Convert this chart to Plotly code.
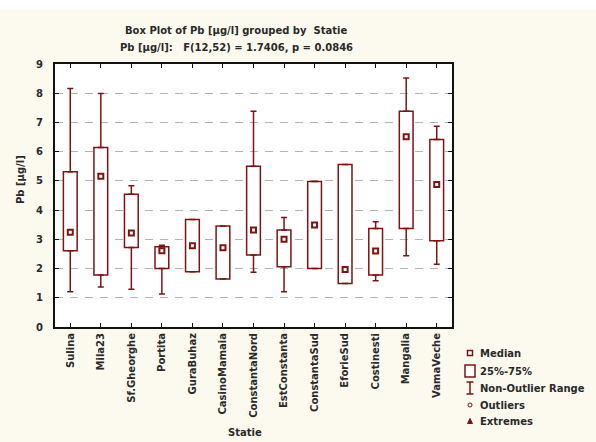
import plotly.graph_objects as go

# Stations (x categories)
stations = ["Sulina", "Mila23", "Sf.Gheorghe", "Portita", "GuraBuhaz", "CasinoMamaia",
            "ConstantaNord", "EstConstanta", "ConstantaSud", "EforieSud", "Costinesti",
            "Mangalia", "VamaVeche"]

# Pb [ug/l] box statistics
whisker_low = [1.21, 1.37, 1.29, 1.13, 1.89, 1.64, 1.87, 1.21, 2.00, 1.49, 1.58, 2.44, 2.15]
q1 = [2.61, 1.78, 2.72, 2.00, 1.89, 1.64, 2.46, 2.06, 2.00, 1.49, 1.78, 3.37, 2.95]
median = [3.24, 5.16, 3.22, 2.61, 2.78, 2.71, 3.32, 3.00, 3.49, 1.97, 2.60, 6.51, 4.88]
q3 = [5.31, 6.14, 4.54, 2.75, 3.68, 3.46, 5.50, 3.32, 4.98, 5.56, 3.37, 7.38, 6.42]
whisker_high = [8.16, 7.99, 4.83, 2.80, 3.68, 3.46, 7.38, 3.75, 4.98, 5.56, 3.60, 8.52, 6.87]

y_ticks = list(range(0, 10))

title_1 = "<b>Box Plot of Pb [µg/l] grouped by  Statie</b>"
title_2 = "<b>Pb [µg/l]:   F(12,52) = 1.7406, p = 0.0846</b>"

RED = "#7d1414"
TXT = "#2a2a2a"
FONT = "DejaVu Sans, Verdana, sans-serif"
FS = 10

W, H = 596, 442
L, R, T, B = 55, 144, 64, 115
PW, PH = W - L - R, H - T - B


def px(x):
    return (x - L) / PW


def py(y):
    return (H - B - y) / PH


fig = go.Figure()

# 25%-75% boxes
fig.add_trace(go.Bar(
    x=stations, y=[b - a for a, b in zip(q1, q3)], base=q1, width=0.45,
    marker=dict(color="white", line=dict(color=RED, width=1.5)),
    showlegend=False, hoverinfo="skip"))

# whiskers above and below the box
fig.add_trace(go.Scatter(
    x=stations, y=q3, mode="markers", marker=dict(size=1, color="rgba(0,0,0,0)"),
    error_y=dict(type="data", symmetric=False,
                 array=[h - b for h, b in zip(whisker_high, q3)], arrayminus=[0] * len(q3),
                 color=RED, thickness=1.5, width=3),
    showlegend=False, hoverinfo="skip"))
fig.add_trace(go.Scatter(
    x=stations, y=q1, mode="markers", marker=dict(size=1, color="rgba(0,0,0,0)"),
    error_y=dict(type="data", symmetric=False,
                 array=[0] * len(q1), arrayminus=[a - l for a, l in zip(q1, whisker_low)],
                 color=RED, thickness=1.5, width=3),
    showlegend=False, hoverinfo="skip"))

# medians
fig.add_trace(go.Scatter(
    x=stations, y=median, mode="markers",
    marker=dict(symbol="square", size=5, color="white", line=dict(color=RED, width=2)),
    showlegend=False, hoverinfo="skip"))

# legend drawn by hand (Statistica style)
shapes = []
annotations = []
legend_rows = [("Median", 353), ("25%-75%", 371), ("Non-Outlier Range", 388),
               ("Outliers", 405), ("Extremes", 421)]
for label, yy in legend_rows:
    annotations.append(dict(x=px(478), y=py(yy), xref="paper", yref="paper", text="<b>%s</b>" % label,
                            showarrow=False, xanchor="left", yanchor="middle",
                            font=dict(size=FS, color=TXT, family=FONT)))
shapes.append(dict(type="rect", xref="paper", yref="paper", x0=px(467.5), x1=px(472.5),
                   y0=py(355.5), y1=py(350.5), line=dict(color=RED, width=1.5), fillcolor="white"))
shapes.append(dict(type="rect", xref="paper", yref="paper", x0=px(465), x1=px(475),
                   y0=py(377), y1=py(365), line=dict(color=RED, width=1.5), fillcolor="white"))
shapes.append(dict(type="line", xref="paper", yref="paper", x0=px(470), x1=px(470),
                   y0=py(382), y1=py(394), line=dict(color=RED, width=1.5)))
shapes.append(dict(type="line", xref="paper", yref="paper", x0=px(466.5), x1=px(473.5),
                   y0=py(382), y1=py(382), line=dict(color=RED, width=1.5)))
shapes.append(dict(type="line", xref="paper", yref="paper", x0=px(466.5), x1=px(473.5),
                   y0=py(394), y1=py(394), line=dict(color=RED, width=1.5)))
shapes.append(dict(type="circle", xref="paper", yref="paper", x0=px(468), x1=px(472),
                   y0=py(407), y1=py(403), line=dict(color=RED, width=1), fillcolor="white"))
shapes.append(dict(type="path", xref="paper", yref="paper",
                   path="M %f %f L %f %f L %f %f Z" % (px(467.5), py(423.5), px(472.5), py(423.5),
                                                       px(470), py(418.5)),
                   line=dict(color=RED, width=1), fillcolor=RED))
# white strip along the top edge
shapes.append(dict(type="rect", xref="paper", yref="paper", x0=px(0), x1=px(W),
                   y0=py(0), y1=py(10), line=dict(width=0), fillcolor="white", layer="below"))

# titles
annotations.append(dict(x=px(236), y=py(30), xref="paper", yref="paper", text=title_1,
                        showarrow=False, xanchor="center", yanchor="middle",
                        font=dict(size=FS, color=TXT, family=FONT)))
annotations.append(dict(x=px(236), y=py(47), xref="paper", yref="paper", text=title_2,
                        showarrow=False, xanchor="center", yanchor="middle",
                        font=dict(size=FS, color=TXT, family=FONT)))
annotations.append(dict(x=px(20), y=py(180), xref="paper", yref="paper", text="<b>Pb [µg/l]</b>",
                        showarrow=False, textangle=-90, xanchor="center", yanchor="middle",
                        font=dict(size=FS, color=TXT, family=FONT)))
annotations.append(dict(x=px(245), y=py(432), xref="paper", yref="paper", text="<b>Statie</b>",
                        showarrow=False, xanchor="center", yanchor="middle",
                        font=dict(size=FS, color=TXT, family=FONT)))

fig.update_layout(
    width=W, height=H,
    margin=dict(l=L, r=R, t=T, b=B),
    paper_bgcolor="#fcf9ee", plot_bgcolor="white",
    font=dict(family=FONT, size=FS, color=TXT),
    shapes=shapes, annotations=annotations,
    showlegend=False,
)
fig.update_xaxes(
    range=[-0.5, len(stations) - 0.5], tickangle=-90,
    tickvals=stations, ticktext=["<b>%s</b>" % s for s in stations],
    tickfont=dict(size=FS, family=FONT, color=TXT),
    showline=True, linecolor="#111111", linewidth=2, mirror="ticks",
    ticks="inside", ticklen=4, tickcolor="#111111", showgrid=False, zeroline=False)
fig.update_yaxes(
    range=[0, 9], tickvals=y_ticks, ticktext=["<b>%d</b>" % v for v in y_ticks],
    tickfont=dict(size=FS, family=FONT, color=TXT), ticklabelstandoff=8,
    showline=True, linecolor="#111111", linewidth=2, mirror="ticks",
    ticks="inside", ticklen=4, tickcolor="#111111",
    showgrid=True, gridcolor="#b4b4b4", griddash="8px,7px", gridwidth=1, zeroline=False)

fig.write_html("out.html", config={"displayModeBar": False},
               post_script="document.body.style.margin='0';")
